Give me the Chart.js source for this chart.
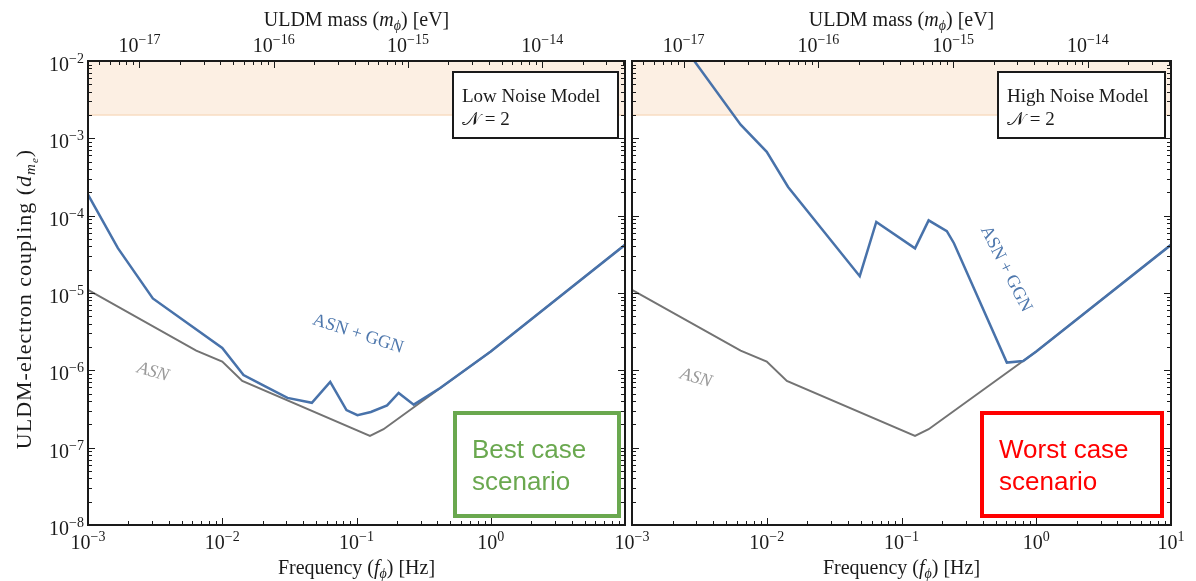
<!DOCTYPE html>
<html>
<head>
<meta charset="utf-8">
<script src="https://cdn.jsdelivr.net/npm/chart.js@4"></script>
<style>
  body { margin: 0; background: #fff; }
  canvas { position: absolute; left: 0; top: 0; }
</style>
</head>
<body>
<canvas id="low" width="1196" height="581"></canvas>
<canvas id="high" width="1196" height="581"></canvas>
<script>
// ASN only curve (same in both panels)
const asnFreq = [1e-3, 6.4e-3, 1e-2, 1.41e-2, 0.126, 0.159, 1, 10];
const asnCoupling = [1.1e-5, 1.8e-6, 1.3e-6, 7.3e-7, 1.42e-7, 1.73e-7, 1.75e-6, 4.2e-5];

// ASN + GGN, low noise model
const lowFreq = [1e-3, 1.67e-3, 3.04e-3, 1e-2, 1.44e-2, 2.09e-2, 3.06e-2, 4.65e-2, 6.37e-2, 8.42e-2, 0.1016, 0.128, 0.169, 0.206, 0.267, 0.42, 1, 10];
const lowCoupling = [1.87e-4, 3.8e-5, 8.5e-6, 1.95e-6, 8.7e-7, 6.2e-7, 4.4e-7, 3.8e-7, 7.1e-7, 3.06e-7, 2.63e-7, 2.89e-7, 3.52e-7, 5.1e-7, 3.6e-7, 5.9e-7, 1.75e-6, 4.2e-5];

// ASN + GGN, high noise model
const highFreq = [2.9e-3, 6.4e-3, 1e-2, 1.44e-2, 4.9e-2, 6.5e-2, 0.126, 0.159, 0.217, 0.245, 0.605, 0.8, 1, 10];
const highCoupling = [1e-2, 1.5e-3, 6.7e-4, 2.35e-4, 1.65e-5, 8.3e-5, 3.78e-5, 8.7e-5, 6.3e-5, 4.4e-5, 1.26e-6, 1.32e-6, 1.75e-6, 4.2e-5];

// excluded region band
const bandFreq = [1e-3, 10];
const bandTop = 1e-2;
const bandBottom = 2e-3;

// axes
const freqMin = 1e-3, freqMax = 10;
const couplingMin = 1e-8, couplingMax = 1e-2;
const planck = 4.1357e-15; // eV s, mass = h f
const freqTickExps = [-3, -2, -1, 0, 1];
const couplingTickExps = [-8, -7, -6, -5, -4, -3, -2];
const massTickExps = [-17, -16, -15, -14];

const serif = '"Liberation Serif", "DejaVu Serif", serif';
const sans = '"Liberation Sans", Arial, sans-serif';

function pts(xs, ys) {
  return xs.map((x, i) => ({ x: x, y: ys[i] }));
}

function drawRich(ctx, parts, x, y, align) {
  let w = 0;
  parts.forEach(p => { ctx.font = p[1]; w += ctx.measureText(p[0]).width; });
  let cx = align === 'center' ? x - w / 2 : (align === 'right' ? x - w : x);
  parts.forEach(p => {
    ctx.font = p[1];
    ctx.fillText(p[0], cx, y + (p[2] || 0));
    cx += ctx.measureText(p[0]).width;
  });
}

function pow10(e) {
  return [['10', '20px ' + serif, 0], [e < 0 ? '\u2212' + (-e) : String(e), '14px ' + serif, -8]];
}

function drawDeco(chart, cfg) {
  const ctx = chart.ctx;
  const a = chart.chartArea;
  const xs = chart.scales.x, ys = chart.scales.y, ms = chart.scales.x2;
  ctx.save();
  ctx.textAlign = 'left';
  ctx.textBaseline = 'alphabetic';

  // ticks, pointing inwards on all sides
  ctx.strokeStyle = '#1a1a1a';
  ctx.lineWidth = 1;
  function each(scale, cb) {
    const lo = Math.floor(Math.log10(scale.min)), hi = Math.ceil(Math.log10(scale.max));
    for (let d = lo; d <= hi; d++) {
      for (let k = 1; k <= 9; k++) {
        const v = k * Math.pow(10, d);
        if (v < scale.min * 0.999 || v > scale.max * 1.001) continue;
        cb(Math.round(scale.getPixelForValue(v)) + 0.5, k === 1);
      }
    }
  }
  ctx.beginPath();
  each(xs, (p, major) => { ctx.moveTo(p, a.bottom); ctx.lineTo(p, a.bottom - (major ? 7 : 4)); });
  each(ms, (p, major) => { ctx.moveTo(p, a.top); ctx.lineTo(p, a.top + (major ? 7 : 4)); });
  each(ys, (p, major) => {
    ctx.moveTo(a.left, p); ctx.lineTo(a.left + (major ? 7 : 4), p);
    ctx.moveTo(a.right, p); ctx.lineTo(a.right - (major ? 7 : 4), p);
  });
  ctx.stroke();

  // frame
  ctx.lineWidth = 2;
  ctx.strokeRect(a.left, a.top, a.right - a.left, a.bottom - a.top);

  // tick labels
  ctx.fillStyle = '#1a1a1a';
  cfg.xLabels.forEach(e => drawRich(ctx, pow10(e), xs.getPixelForValue(Math.pow(10, e)), a.bottom + 24, 'center'));
  massTickExps.forEach(e => drawRich(ctx, pow10(e), ms.getPixelForValue(Math.pow(10, e)), a.top - 9, 'center'));
  if (cfg.yLabels) {
    couplingTickExps.forEach(e => drawRich(ctx, pow10(e), a.left - 4, ys.getPixelForValue(Math.pow(10, e)) + 10, 'right'));
  }

  // axis titles
  const cx = (a.left + a.right) / 2;
  drawRich(ctx, [['ULDM mass (', '20px ' + serif], ['m', 'italic 20px ' + serif], ['\u03d5', 'italic 14px ' + serif, 4], [') [eV]', '20px ' + serif]], cx, 26, 'center');
  drawRich(ctx, [['Frequency (', '20px ' + serif], ['f', 'italic 20px ' + serif], ['\u03d5', 'italic 14px ' + serif, 4], [') [Hz]', '20px ' + serif]], cx, 574, 'center');
  if (cfg.yLabels) {
    ctx.save();
    ctx.translate(31, 299);
    ctx.rotate(-Math.PI / 2);
    ctx.letterSpacing = '1px';
    drawRich(ctx, [['ULDM-electron coupling (', '22px ' + serif], ['d', 'italic 22px ' + serif],
      ['m', 'italic 15px ' + serif, 4], ['e', 'italic 11px ' + serif, 7], [')', '22px ' + serif]], 0, 0, 'center');
    ctx.restore();
  }

  // noise model box
  const b = cfg.noteBox;
  ctx.fillStyle = '#fff';
  ctx.fillRect(b[0], b[1], b[2], b[3]);
  ctx.lineWidth = 2;
  ctx.strokeStyle = '#1a1a1a';
  ctx.strokeRect(b[0], b[1], b[2], b[3]);
  ctx.fillStyle = '#1a1a1a';
  drawRich(ctx, [[cfg.note, '19px ' + serif]], b[0] + 9, b[1] + 30, 'left');
  drawRich(ctx, [['\ud835\udca9', '19px ' + serif], [' = 2', '19px ' + serif]], b[0] + 9, b[1] + 53, 'left');

  // curve labels
  function rotText(txt, color, x, y, deg, font) {
    ctx.save();
    ctx.translate(x, y);
    ctx.rotate(deg * Math.PI / 180);
    ctx.fillStyle = color;
    ctx.font = font;
    ctx.textAlign = 'center';
    ctx.textBaseline = 'middle';
    ctx.fillText(txt, 0, 0);
    ctx.restore();
  }
  rotText('ASN', '#9a9a9a', cfg.asnPos[0], cfg.asnPos[1], 16, 'italic 18px ' + serif);
  rotText('ASN + GGN', '#4f78ad', cfg.ggnPos[0], cfg.ggnPos[1], cfg.ggnPos[2], '18px ' + serif);

  // scenario box
  const s = cfg.scenBox;
  ctx.lineWidth = 4;
  ctx.strokeStyle = cfg.scenColor;
  ctx.strokeRect(s[0], s[1], s[2], s[3]);
  ctx.fillStyle = cfg.scenColor;
  ctx.textAlign = 'left';
  ctx.textBaseline = 'alphabetic';
  ctx.font = '26px ' + sans;
  ctx.fillText(cfg.scen[0], s[0] + cfg.scenPad, s[1] + 45);
  ctx.fillText(cfg.scen[1], s[0] + cfg.scenPad, s[1] + 77);
  ctx.restore();
}

function makePanel(id, freq, coupling, cfg) {
  return new Chart(document.getElementById(id), {
    type: 'scatter',
    data: {
      datasets: [
        { data: pts(freq, coupling), showLine: true, borderColor: '#4872aa', borderWidth: 2.5, pointRadius: 0, order: 0 },
        { data: pts(asnFreq, asnCoupling), showLine: true, borderColor: '#737373', borderWidth: 2, pointRadius: 0, order: 1 },
        { data: pts(bandFreq, bandFreq.map(() => bandTop)), showLine: true, borderWidth: 0, pointRadius: 0, order: 3 },
        { data: pts(bandFreq, bandFreq.map(() => bandBottom)), showLine: true, borderColor: '#f8dcc2', borderWidth: 1.5,
          backgroundColor: '#fcefe3', fill: '-1', pointRadius: 0, order: 2 }
      ]
    },
    options: {
      responsive: false,
      animation: false,
      events: [],
      layout: { padding: { left: 0, right: cfg.padRight, top: 0, bottom: 0 } },
      plugins: { legend: { display: false }, tooltip: { enabled: false } },
      scales: {
        x: {
          type: 'logarithmic', position: 'bottom', min: freqMin, max: freqMax,
          grid: { display: false }, border: { display: false }, ticks: { display: false },
          afterFit: s => { s.height = 56; }
        },
        x2: {
          type: 'logarithmic', position: 'top', min: planck * freqMin, max: planck * freqMax,
          grid: { display: false }, border: { display: false }, ticks: { display: false },
          afterFit: s => { s.height = 61; }
        },
        y: {
          type: 'logarithmic', min: couplingMin, max: couplingMax,
          grid: { display: false }, border: { display: false }, ticks: { display: false },
          afterFit: s => { s.width = cfg.yWidth; }
        }
      }
    },
    plugins: [{ id: 'deco', afterDraw: chart => drawDeco(chart, cfg) }]
  });
}

makePanel('low', lowFreq, lowCoupling, {
  padRight: 571, yWidth: 88, yLabels: true, xLabels: [-3, -2, -1, 0],
  note: 'Low Noise Model', noteBox: [453, 72, 165, 66],
  asnPos: [153, 372], ggnPos: [358, 334, 18],
  scen: ['Best case', 'scenario'], scenBox: [455, 413, 164, 103], scenColor: '#6aa84f', scenPad: 17
});

makePanel('high', highFreq, highCoupling, {
  padRight: 25, yWidth: 632, yLabels: false, xLabels: freqTickExps,
  note: 'High Noise Model', noteBox: [998, 72, 167, 66],
  asnPos: [696, 378], ggnPos: [1006, 269, 63],
  scen: ['Worst case', 'scenario'], scenBox: [982, 413, 180, 103], scenColor: '#ff0000', scenPad: 17
});
</script>
</body>
</html>
